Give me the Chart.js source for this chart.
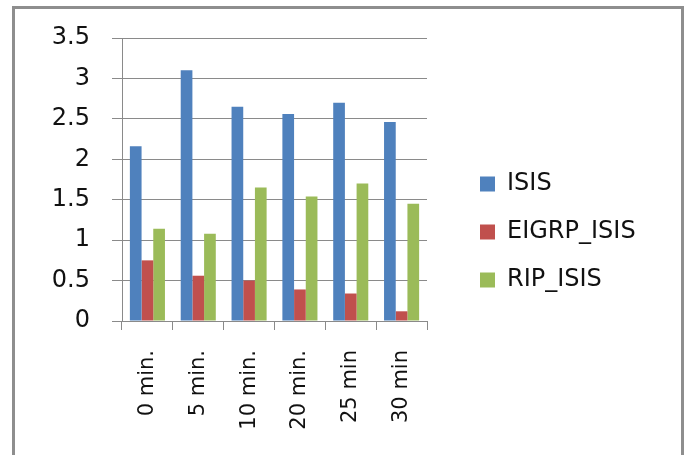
<!DOCTYPE html>
<html>
<head>
<meta charset="utf-8">
<script src="https://cdn.jsdelivr.net/npm/chart.js@4/dist/chart.umd.min.js"></script>
<style>
  html, body { margin: 0; padding: 0; background: #fff; }
  #wrap { position: relative; width: 688px; height: 455px; overflow: hidden; }
  #frame {
    position: absolute; left: 12px; top: 6px; width: 672px; height: 470px;
    border: 3px solid #8e8e8e; border-bottom: none; box-sizing: border-box;
  }
  canvas { position: absolute; left: 0; top: 0; }
</style>
</head>
<body>
<div id="wrap">
  <div id="frame"></div>
  <canvas id="chart" width="688" height="455"></canvas>
</div>
<script>
// Convergence time per interval
const categories = ["0 min.", "5 min.", "10 min.", "20 min.", "25 min", "30 min"];
const isis       = [2.16, 3.10, 2.65, 2.56, 2.70, 2.46];
const eigrpIsis  = [0.75, 0.56, 0.50, 0.39, 0.34, 0.12];
const ripIsis    = [1.14, 1.08, 1.65, 1.54, 1.70, 1.45];
const seriesNames = ["ISIS", "EIGRP_ISIS", "RIP_ISIS"];

const Y_MIN = 0, Y_MAX = 3.5, Y_STEP = 0.5;

const gridGray = '#8a8a8a';

// Place the legend block to the right of the plot
const legendPlacement = {
  id: 'legendPlacement',
  afterLayout(chart) {
    const lg = chart.legend;
    const h = lg.height;
    lg.left = 456; lg.right = chart.width; lg.width = lg.right - lg.left;
    lg.top = 148;  lg.bottom = lg.top + h;
  }
};

Chart.defaults.font.family = "'DejaVu Sans', sans-serif";
Chart.defaults.color = '#111';

new Chart(document.getElementById('chart'), {
  type: 'bar',
  data: {
    labels: categories,
    datasets: [
      { label: seriesNames[0], data: isis,      backgroundColor: '#4f81bd' },
      { label: seriesNames[1], data: eigrpIsis, backgroundColor: '#c0504d' },
      { label: seriesNames[2], data: ripIsis,   backgroundColor: '#9bbb59' }
    ]
  },
  options: {
    responsive: false,
    animation: false,
    layout: { padding: { left: 0, top: 38, right: 111, bottom: 0 } },
    datasets: { bar: { categoryPercentage: 0.69, barPercentage: 1.0, borderWidth: 0 } },
    plugins: {
      tooltip: { enabled: false },
      legend: {
        position: 'right',
        align: 'start',
        maxWidth: 150,
        labels: {
          font: { size: 24 },
          boxWidth: 15,
          boxHeight: 15,
          padding: 24,
          color: '#111'
        }
      }
    },
    scales: {
      x: {
        grid: {
          offset: true,
          drawOnChartArea: false,
          drawTicks: true,
          tickLength: 9,
          color: gridGray
        },
        border: { color: gridGray, width: 1 },
        ticks: {
          minRotation: 90,
          maxRotation: 90,
          padding: 20,
          font: { size: 21 },
          color: '#111'
        },
        afterFit(scale) { scale.height = 134; }
      },
      y: {
        min: Y_MIN,
        max: Y_MAX,
        ticks: {
          stepSize: Y_STEP,
          padding: 22,
          font: { size: 24 },
          color: '#111',
          callback: (v) => String(v)
        },
        grid: { color: gridGray, tickLength: 10, drawTicks: true },
        border: { color: gridGray, width: 1 },
        afterFit(scale) { scale.width = 122; }
      }
    }
  },
  plugins: [legendPlacement]
});
</script>
</body>
</html>
